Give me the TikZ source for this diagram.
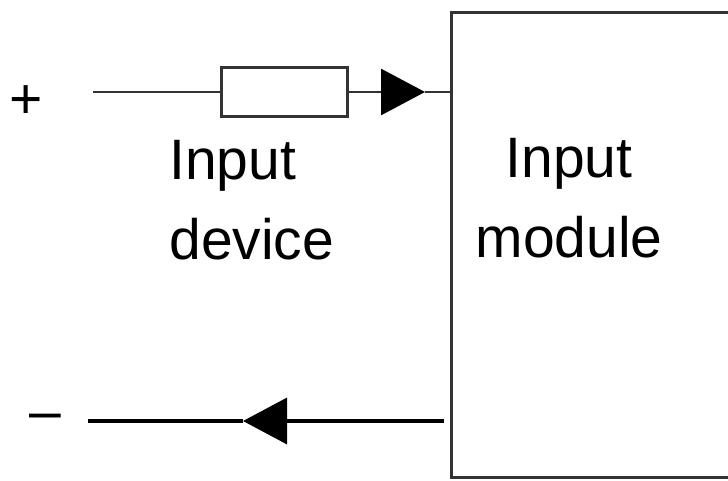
\documentclass[tikz,border=0pt]{standalone}
\usepackage{fontspec}
\setmainfont{Liberation Sans}
\usetikzlibrary{arrows.meta}

\tikzset{
    wire/.style={black!80, line width=1.45pt},
    flow/.style={-{Triangle[length=22pt,width=23pt,color=black]}},
    label/.style={inner sep=0pt, font=\fontsize{28.5}{40}\selectfont},
}

\begin{document}
\begin{tikzpicture}[x=0.5pt,y=-0.5pt]
        \useasboundingbox (0,0) rectangle (728,481);

        % blocks
        \node[draw, black!80, line width=1.35pt, minimum width=63.25pt, minimum height=24.75pt, inner sep=0pt] (res) at (284.5,92) {};
        \node[draw, black!80, line width=1.6pt, minimum width=174.25pt, minimum height=232.5pt, inner sep=0pt] (module) at (625.75,245) {};

        % texts
        \node[label, anchor=base] (plus) at (26,119) {+};
        \node[label, anchor=base] (minus) at (45,430) {–};
        \node[label, align=left, anchor=north west] (devtext) at (169,140) {Input\\device};
        \node[label, align=center, anchor=north] (modtext) at (569,138) {Input\\module};

        % top wire
        \coordinate (plusend) at (93,92);
        \coordinate (tipA) at (425,92);
        \draw[wire] (plusend) -- (res.west);
        \draw[wire, flow] (res.east) -- (tipA);
        \draw[wire] (tipA) -- (module.west |- tipA);

        % bottom wire
        \coordinate (modout) at (444,421);
        \coordinate (tipB) at (243,421);
        \coordinate (minusend) at (88,421);
        \draw[black, line width=1.7pt, flow] (modout) -- (tipB);
        \draw[black, line width=1.7pt] (tipB) -- (minusend);

    \end{tikzpicture}
\end{document}
